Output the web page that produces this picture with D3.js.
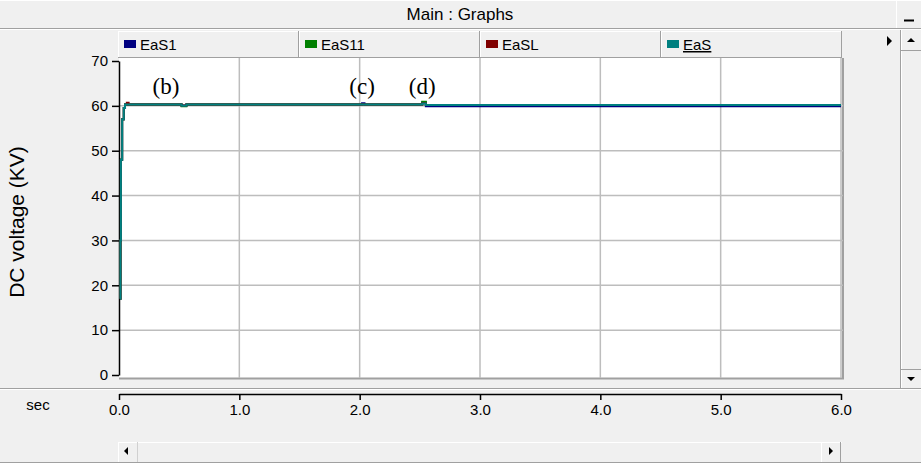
<!DOCTYPE html>
<html><head><meta charset="utf-8">
<script src="https://cdn.jsdelivr.net/npm/d3@7"></script>
<style>
html,body{margin:0;padding:0;background:#f0f0f0;}
svg{display:block;font-family:"Liberation Sans",Arial,sans-serif;}
</style></head><body>
<svg id="c" width="921" height="463"></svg>
<script>
// ---- data ----
const seriesNames = ["EaS1", "EaS11", "EaSL", "EaS"];
const seriesColors = ["#000080", "#008000", "#800000", "#008080"];
const time  = [0.008, 0.012, 0.016, 0.02, 0.026, 0.032, 0.04, 0.05, 0.065, 0.08, 0.5, 0.52, 0.56, 2.0, 2.02, 2.04, 2.5, 2.52, 2.55, 2.58, 3.0, 3.05, 4.0, 5.0, 6.0];
const eaS1  = [17, 30, 48, 48, 57, 57, 59.5, 60.3, 60.3, 60.3, 60.3, 60.1, 60.3, 60.3, 60.6, 60.3, 60.3, 60.8, 59.9, 59.9, 59.9, 59.9, 59.9, 59.9, 59.9];
const eaS11 = [17, 30, 48, 48, 57, 57, 59.5, 60.3, 60.3, 60.3, 60.3, 59.9, 60.3, 60.3, 60.3, 60.3, 60.3, 60.9, 60.2, 60.2, 60.2, 60.2, 60.2, 60.2, 60.2];
const eaSL  = [17, 30, 48, 48, 57, 57, 59.5, 60.3, 60.7, 60.3, 60.3, 60.1, 60.3, 60.3, 60.3, 60.3, 60.3, 60.6, 60.2, 60.2, 60.2, 60.2, 60.2, 60.2, 60.2];
const eaS   = [17, 30, 48, 48, 57, 57, 59.5, 60.3, 60.3, 60.3, 60.3, 60.0, 60.3, 60.3, 60.3, 60.3, 60.3, 60.5, 60.2, 60.2, 60.2, 60.2, 60.2, 60.2, 60.2];
const yTicks = [0, 10, 20, 30, 40, 50, 60, 70];
const xTicks = [0, 1, 2, 3, 4, 5, 6];
const annotations = [{label: "(b)", t: 0.39}, {label: "(c)", t: 2.02}, {label: "(d)", t: 2.52}];
const title = "Main : Graphs";
const yLabel = "DC voltage (KV)";
const xUnit = "sec";

// ---- layout ----
const svg = d3.select("#c");
const W = 921, H = 463;
const px0 = 119, px1 = 841, py0 = 375, py1 = 61;
const x = d3.scaleLinear().domain([0, 6]).range([px0, px1]);
const y = d3.scaleLinear().domain([0, 70]).range([py0, py1]);

svg.append("rect").attr("width", W).attr("height", H).attr("fill", "#f0f0f0");

// title bar
svg.append("line").attr("x1", 0).attr("x2", W).attr("y1", 0.5).attr("y2", 0.5).attr("stroke", "#fff");
svg.append("line").attr("x1", 0).attr("x2", W).attr("y1", 28.5).attr("y2", 28.5).attr("stroke", "#a0a0a0");
svg.append("line").attr("x1", 0).attr("x2", W).attr("y1", 29.5).attr("y2", 29.5).attr("stroke", "#ffffff");
svg.append("text").attr("x", 460).attr("y", 20).attr("text-anchor", "middle").attr("font-size", 17).attr("fill", "#000").text(title);
// minimize button
svg.append("line").attr("x1", 896.5).attr("x2", 896.5).attr("y1", 0).attr("y2", 28).attr("stroke", "#fff");
svg.append("line").attr("x1", 904).attr("x2", 914).attr("y1", 20.5).attr("y2", 20.5).attr("stroke", "#000").attr("stroke-width", 2);

// legend tabs
const tabX = d3.scaleBand().domain(seriesNames).range([118, 842]);
const tabs = svg.append("g");
seriesNames.forEach((n, i) => {
  const tx = tabX(n), tw = tabX.bandwidth();
  const g = tabs.append("g");
  g.append("rect").attr("x", tx).attr("y", 31).attr("width", tw).attr("height", 27).attr("fill", "#f0f0f0");
  g.append("line").attr("x1", tx + 0.5).attr("x2", tx + 0.5).attr("y1", 31).attr("y2", 58).attr("stroke", "#fff");
  g.append("line").attr("x1", tx).attr("x2", tx + tw).attr("y1", 31.5).attr("y2", 31.5).attr("stroke", "#fff");
  g.append("line").attr("x1", tx + tw - 0.5).attr("x2", tx + tw - 0.5).attr("y1", 31).attr("y2", 58).attr("stroke", "#a0a0a0");
  g.append("line").attr("x1", tx).attr("x2", tx + tw).attr("y1", 57.5).attr("y2", 57.5).attr("stroke", "#a0a0a0");
  g.append("rect").attr("x", tx + 6).attr("y", 40).attr("width", 12).attr("height", 8).attr("fill", seriesColors[i]);
  const t = g.append("text").attr("x", tx + 22).attr("y", 50).attr("font-size", 15).attr("fill", "#000").text(n);
  if (i === 3) t.attr("text-decoration", "underline");
});
// small right arrow
svg.append("path").attr("d", "M887,36 L892,41 L887,46 Z").attr("fill", "#000");

// right scrollbar
svg.append("line").attr("x1", 900.5).attr("x2", 900.5).attr("y1", 30).attr("y2", 388).attr("stroke", "#a0a0a0");
svg.append("line").attr("x1", 901.5).attr("x2", 901.5).attr("y1", 30).attr("y2", 388).attr("stroke", "#fff");
svg.append("line").attr("x1", 901).attr("x2", W).attr("y1", 50.5).attr("y2", 50.5).attr("stroke", "#a0a0a0");
svg.append("line").attr("x1", 901).attr("x2", W).attr("y1", 369.5).attr("y2", 369.5).attr("stroke", "#a0a0a0");
svg.append("path").attr("d", "M907,42 L911,38 L915,42 Z").attr("fill", "#000");
svg.append("path").attr("d", "M907,377 L911,381 L915,377 Z").attr("fill", "#000");

// plot area
svg.append("rect").attr("x", px0).attr("y", 58).attr("width", 724).attr("height", 320).attr("fill", "#fff");
svg.append("line").attr("x1", 843).attr("x2", 843).attr("y1", 58).attr("y2", 379).attr("stroke", "#a0a0a0").attr("stroke-width", 2);
svg.append("line").attr("x1", px0).attr("x2", 844).attr("y1", 378.5).attr("y2", 378.5).attr("stroke", "#a0a0a0").attr("stroke-width", 2);

// grid
const grid = svg.append("g");
grid.selectAll(".gx").data(xTicks.slice(1)).join("line")
  .attr("x1", d => x(d)).attr("x2", d => x(d)).attr("y1", 58).attr("y2", 378)
  .attr("stroke", "#bdbdbd").attr("stroke-width", 1.5);
grid.selectAll(".gy").data(yTicks.slice(1, -1)).join("line")
  .attr("x1", px0).attr("x2", 843).attr("y1", d => y(d)).attr("y2", d => y(d))
  .attr("stroke", "#bdbdbd").attr("stroke-width", 1.5);

// y axis
const ya = svg.append("g").attr("transform", `translate(${px0},0)`)
  .call(d3.axisLeft(y).tickValues(yTicks).tickSize(7).tickSizeOuter(0).tickPadding(4));
ya.select(".domain").attr("stroke", "#000").attr("stroke-width", 1.5);
ya.selectAll(".tick line").attr("stroke", "#000").attr("stroke-width", 1.5);
ya.selectAll("text").attr("font-size", 15).attr("fill", "#000").attr("font-family", "Liberation Sans, Arial, sans-serif");

svg.append("text").attr("transform", "translate(24,222) rotate(-90)").attr("text-anchor", "middle")
  .attr("font-size", 21).attr("fill", "#000").text(yLabel);

// bottom separator
svg.append("line").attr("x1", 0).attr("x2", W).attr("y1", 388.5).attr("y2", 388.5).attr("stroke", "#a0a0a0");
svg.append("line").attr("x1", 0).attr("x2", W).attr("y1", 389.5).attr("y2", 389.5).attr("stroke", "#fff");

// x axis
const xa = svg.append("g").attr("transform", `translate(0,394)`)
  .call(d3.axisBottom(x).tickValues(xTicks).tickFormat(d3.format(".1f")).tickSize(-6).tickSizeOuter(0).tickPadding(6));
xa.select(".domain").attr("stroke", "#000").attr("stroke-width", 1.5);
xa.selectAll(".tick line").attr("stroke", "#000").attr("stroke-width", 1.5).attr("y2", 6).attr("y1", 0);
xa.selectAll("text").attr("font-size", 15).attr("fill", "#000").attr("font-family", "Liberation Sans, Arial, sans-serif").attr("dy", "1.0em");
svg.append("text").attr("x", 38).attr("y", 410).attr("text-anchor", "middle").attr("font-size", 15).attr("fill", "#000").text(xUnit);

// bottom scrollbar
svg.append("line").attr("x1", 118).attr("x2", 842).attr("y1", 442.5).attr("y2", 442.5).attr("stroke", "#fff");
svg.append("line").attr("x1", 118.5).attr("x2", 118.5).attr("y1", 442).attr("y2", 463).attr("stroke", "#fff");
svg.append("line").attr("x1", 137.5).attr("x2", 137.5).attr("y1", 442).attr("y2", 463).attr("stroke", "#d0d0d0");
svg.append("line").attr("x1", 821.5).attr("x2", 821.5).attr("y1", 442).attr("y2", 463).attr("stroke", "#fff");
svg.append("line").attr("x1", 840.5).attr("x2", 840.5).attr("y1", 442).attr("y2", 463).attr("stroke", "#a0a0a0");
svg.append("path").attr("d", "M128,447 L124,451 L128,455 Z").attr("fill", "#000");
svg.append("path").attr("d", "M829,447 L833,451 L829,455 Z").attr("fill", "#000");
svg.append("line").attr("x1", 0).attr("x2", W).attr("y1", 462.5).attr("y2", 462.5).attr("stroke", "#a0a0a0");

// series
const data = [eaS1, eaS11, eaSL, eaS];
const line = d3.line().x((d, i) => x(time[i])).y(d => y(d)).curve(d3.curveStepAfter);
svg.append("clipPath").attr("id", "pc").append("rect").attr("x", px0).attr("y", 58).attr("width", 724).attr("height", 320);
const lines = svg.append("g").attr("clip-path", "url(#pc)");
data.forEach((vals, i) => {
  lines.append("path").datum(vals).attr("d", line).attr("fill", "none")
    .attr("stroke", seriesColors[i]).attr("stroke-width", 2);
});

// annotations
svg.selectAll(".ann").data(annotations).join("text")
  .attr("x", d => x(d.t)).attr("y", 94).attr("text-anchor", "middle")
  .attr("font-family", "Liberation Serif, Times New Roman, serif").attr("font-size", 23).attr("fill", "#000")
  .text(d => d.label);
</script>
</body></html>
